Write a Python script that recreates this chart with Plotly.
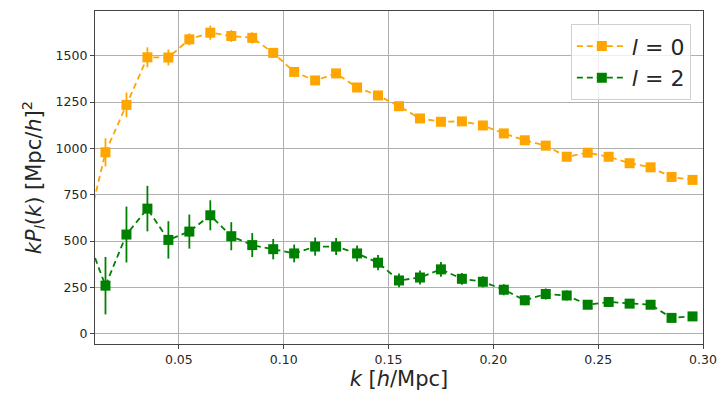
import plotly.graph_objects as go

k = [0.005, 0.015, 0.025, 0.035, 0.045, 0.055, 0.065, 0.075, 0.085, 0.095,
     0.105, 0.115, 0.125, 0.135, 0.145, 0.155, 0.165, 0.175, 0.185, 0.195,
     0.205, 0.215, 0.225, 0.235, 0.245, 0.255, 0.265, 0.275, 0.285, 0.295]

p0 = [505, 979, 1235, 1492, 1491, 1589, 1625, 1607, 1597, 1516,
      1413, 1367, 1405, 1329, 1286, 1228, 1162, 1144, 1146, 1124,
      1081, 1044, 1015, 955, 977, 955, 920, 898, 846, 830]
p0_err = [90, 76, 67, 54, 43, 32, 38, 32, 30, 26,
          24, 22, 22, 20, 20, 18, 17, 16, 16, 15,
          15, 14, 14, 13, 13, 12, 12, 12, 11, 11]

p2 = [560, 259, 535, 675, 506, 551, 639, 526, 478, 456,
      433, 470, 470, 433, 383, 287, 303, 347, 296, 280,
      237, 180, 214, 206, 156, 171, 162, 156, 85, 93]
p2_err = [180, 155, 151, 123, 101, 92, 81, 76, 65, 55,
          48, 49, 46, 43, 41, 37, 38, 40, 32, 30,
          30, 27, 30, 27, 22, 22, 20, 20, 20, 20]

x_ticks = [0.05, 0.10, 0.15, 0.20, 0.25, 0.30]
y_ticks = [0, 250, 500, 750, 1000, 1250, 1500]

ORANGE = "#FFA500"
GREEN = "#008000"

fig = go.Figure()
for name, y, err, col in [("<i>l</i> = 0", p0, p0_err, ORANGE),
                          ("<i>l</i> = 2", p2, p2_err, GREEN)]:
    fig.add_trace(go.Scatter(
        x=k, y=y, name=name, mode="lines+markers",
        line=dict(color=col, width=1.8, dash="6px,4px"),
        marker=dict(symbol="square", size=10, color=col),
        error_y=dict(type="data", array=err, visible=True, color=col,
                     thickness=1.8, width=0),
        cliponaxis=True,
    ))

axis_common = dict(
    showgrid=True, gridcolor="#b0b0b0", gridwidth=1,
    showline=True, linecolor="#444444", linewidth=1.2, mirror=True,
    ticks="outside", ticklen=4, tickcolor="#444444", tickwidth=1,
    zeroline=False, automargin=False,
    tickfont=dict(family="DejaVu Sans", size=12.5, color="#262626"),
)

fig.update_layout(
    width=721, height=398,
    margin=dict(l=95, r=18, t=11, b=54, autoexpand=False),
    paper_bgcolor="white", plot_bgcolor="white",
    font=dict(family="DejaVu Sans", color="#262626"),
    xaxis=dict(range=[0.01, 0.30], tickvals=x_ticks, tickformat=".2f",
               title=dict(text="<i>k</i> [<i>h</i>/Mpc]",
                          font=dict(size=21, family="DejaVu Sans"), standoff=5),
               **axis_common),
    yaxis=dict(range=[-56, 1742], tickvals=y_ticks,
               title=dict(text="<i>kP<sub>l</sub></i>(<i>k</i>) [Mpc/<i>h</i>]<sup>2</sup>",
                          font=dict(size=21, family="DejaVu Sans"), standoff=8),
               **axis_common),
    legend=dict(x=0.98, y=0.96, xanchor="right", yanchor="top",
                bgcolor="rgba(255,255,255,0.8)", bordercolor="#d0d0d0",
                borderwidth=1, font=dict(size=22, family="DejaVu Sans", color="#262626"),
                itemwidth=50, tracegroupgap=4),
    showlegend=True,
)

fig.write_html("out.html")
